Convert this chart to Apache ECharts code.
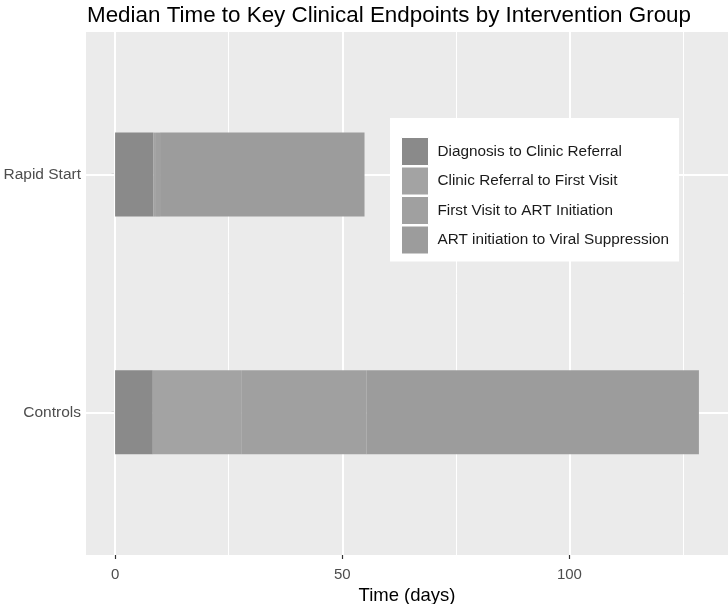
<!DOCTYPE html>
<html>
<head>
<meta charset="utf-8">
<script src="https://cdn.jsdelivr.net/npm/echarts@6/dist/echarts.min.js"></script>
<style>
html,body{margin:0;padding:0;background:#fff;}
#chart{width:728px;height:604px;}
</style>
</head>
<body>
<div id="chart"></div>
<script>
// Data
const categories = ['Controls', 'Rapid Start'];
const categoryPositions = [1, 2];
const segmentNames = [
  'Diagnosis to Clinic Referral',
  'Clinic Referral to First Visit',
  'First Visit to ART Initiation',
  'ART initiation to Viral Suppression'
];
const diagnosisToReferral = [8.3, 8.4];
const referralToFirstVisit = [19.6, 0.6];
const firstVisitToART = [27.4, 0.9];
const artToSuppression = [73.2, 45.0];
const majorBreaks = [0, 50, 100];
const minorBreaks = [25, 75, 125];
const xMin = -6.4, xMax = 134.9;

const segmentValues = [diagnosisToReferral, referralToFirstVisit, firstVisitToART, artToSuppression];
const segmentColors = ['#8a8a8a', '#a3a3a3', '#a0a0a0', '#9c9c9c'];
const FONT = '"Liberation Sans", Arial, sans-serif';

const chart = echarts.init(document.getElementById('chart'), null, {renderer: 'canvas'});

const barSeries = segmentNames.map((name, i) => ({
  name: name,
  type: 'bar',
  stack: 'total',
  xAxisIndex: 1,
  yAxisIndex: 1,
  barWidth: 84,
  z: 3,
  itemStyle: {color: segmentColors[i], borderWidth: 0},
  emphasis: {disabled: true},
  data: segmentValues[i]
}));

const option = {
  animation: false,
  backgroundColor: '#ffffff',
  title: {
    text: 'Median Time to Key Clinical Endpoints by Intervention Group',
    left: 82,
    top: 0,
    textStyle: {fontFamily: FONT, fontSize: 22.4, fontWeight: 'normal', color: '#000000'}
  },
  legend: {
    orient: 'vertical',
    left: 390,
    top: 118,
    data: segmentNames,
    icon: 'rect',
    itemWidth: 27,
    itemHeight: 28,
    itemGap: 0.5,
    padding: [19, 10, 7, 11],
    backgroundColor: '#ffffff',
    itemStyle: {borderColor: '#ffffff', borderWidth: 1},
    textStyle: {fontFamily: FONT, fontSize: 15.3, color: '#1a1a1a', padding: [0, 0, 0, 4]},
    selectedMode: false
  },
  grid: [
    {left: 86, right: 0, top: 32, bottom: 49, show: true, backgroundColor: '#ebebeb', borderWidth: 0, containLabel: false, outerBoundsMode: 'none'},
    {left: 86, right: 0, top: 55.7, bottom: 72.8, show: false, containLabel: false, outerBoundsMode: 'none'}
  ],
  xAxis: [
    {
      type: 'value', gridIndex: 0, min: xMin, max: xMax,
      splitLine: {show: false},
      axisLine: {show: false},
      axisTick: {show: true, length: 4, lineStyle: {color: '#333333', width: 1.2}, customValues: majorBreaks},
      axisLabel: {customValues: majorBreaks, fontFamily: FONT, fontSize: 15, color: '#4d4d4d', margin: 12},
      name: 'Time (days)',
      nameLocation: 'middle',
      nameGap: 31,
      nameTextStyle: {fontFamily: FONT, fontSize: 18.5, color: '#000000'}
    },
    {
      type: 'value', gridIndex: 1, min: xMin, max: xMax, show: false,
      splitLine: {show: false}
    }
  ],
  yAxis: [
    {
      type: 'value', gridIndex: 0, min: 0.4, max: 2.6,
      splitLine: {show: false},
      axisLine: {show: false},
      axisTick: {show: true, length: 3.5, lineStyle: {color: '#333333', width: 1.2}, customValues: categoryPositions},
      axisLabel: {
        customValues: categoryPositions,
        formatter: v => categories[categoryPositions.indexOf(v)] || '',
        fontFamily: FONT, fontSize: 15.5, color: '#4d4d4d', margin: 5
      }
    },
    {
      type: 'category', gridIndex: 1, data: categories, show: false,
      splitLine: {show: false}
    }
  ],
  series: [
    {
      type: 'line', xAxisIndex: 0, yAxisIndex: 0, data: [], z: 1, silent: true,
      markLine: {
        silent: true, symbol: 'none', z: 1, animation: false,
        label: {show: false},
        data: majorBreaks.map(v => ({xAxis: v, lineStyle: {color: '#ffffff', width: 2, type: 'solid'}}))
          .concat(minorBreaks.map(v => ({xAxis: v, lineStyle: {color: '#ffffff', width: 1, type: 'solid'}})))
          .concat(categoryPositions.map(v => ({yAxis: v, lineStyle: {color: '#ffffff', width: 2, type: 'solid'}})))
      }
    }
  ].concat(barSeries)
};
chart.setOption(option);
</script>
</body>
</html>
